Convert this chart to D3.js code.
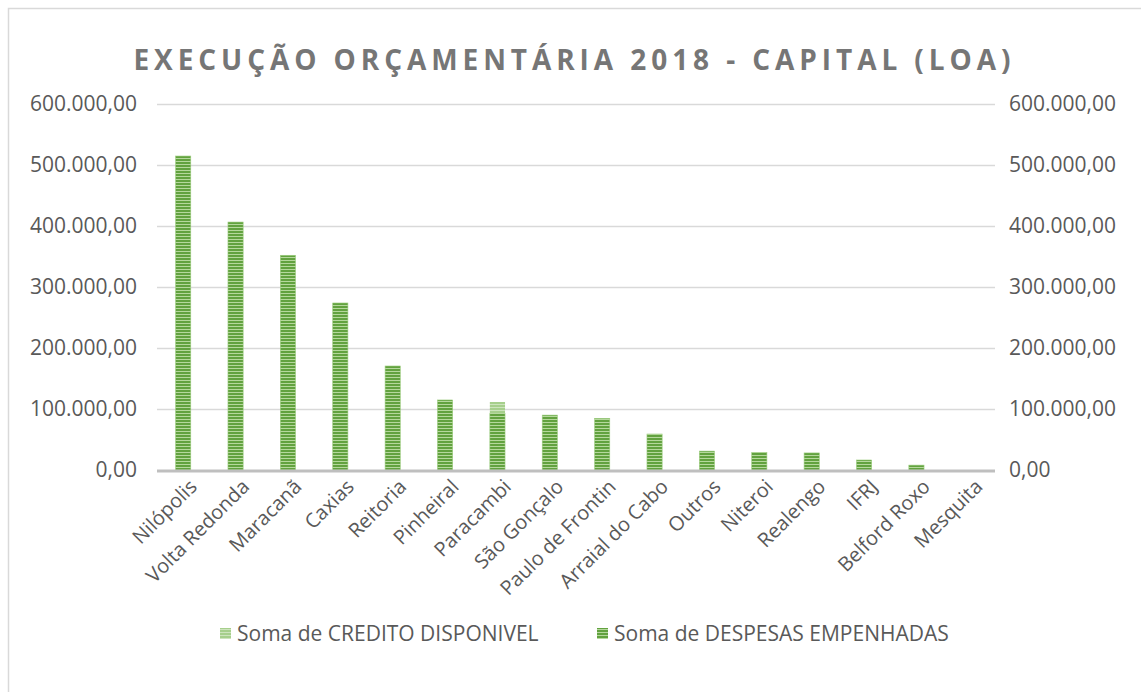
<!DOCTYPE html>
<html>
<head>
<meta charset="utf-8">
<script src="https://cdn.jsdelivr.net/npm/d3@7"></script>
<style>
  body { margin: 0; background: #fff; }
  svg text { font-family: "Open Sans", sans-serif; fill: #595959; }
</style>
</head>
<body>
<svg id="chart" width="1141" height="692"></svg>
<script>
// chart data
var categories = ["Nilópolis", "Volta Redonda", "Maracanã", "Caxias", "Reitoria", "Pinheiral", "Paracambi",
  "São Gonçalo", "Paulo de Frontin", "Arraial do Cabo", "Outros", "Niteroi", "Realengo", "IFRJ", "Belford Roxo", "Mesquita"];
var despesas = [514700, 406500, 352000, 273800, 170500, 114800, 93000, 90000, 84700, 59000, 31000, 29000, 28000, 16400, 8000, 0];
var credito = [0, 0, 0, 0, 0, 0, 18500, 0, 0, 0, 0, 0, 0, 0, 0, 0];
var yTicks = [0, 100000, 200000, 300000, 400000, 500000, 600000];
var seriesNames = ["Soma de CREDITO DISPONIVEL", "Soma de DESPESAS EMPENHADAS"];
var title = "EXECUÇÃO ORÇAMENTÁRIA 2018 - CAPITAL (LOA)";

var svg = d3.select("#chart");
var plotLeft = 157, plotRight = 995, plotTop = 104, plotBottom = 470;

// outer chart frame (cropped on the right and bottom)
svg.append("rect")
  .attr("x", 8.5).attr("y", 8.5)
  .attr("width", 1300).attr("height", 900)
  .attr("fill", "#fff").attr("stroke", "#d9d9d9").attr("stroke-width", 1.5);

// striped fills
var defs = svg.append("defs");
function stripes(id, base, light) {
  var p = defs.append("pattern").attr("id", id)
    .attr("patternUnits", "userSpaceOnUse").attr("width", 6).attr("height", 3);
  p.append("rect").attr("width", 6).attr("height", 3).attr("fill", base);
  p.append("rect").attr("y", 2).attr("width", 6).attr("height", 1).attr("fill", light);
}
stripes("patDesp", "#62a23f", "#b5d89c");
stripes("patCred", "#a6cf8c", "#cde4bd");

var x = d3.scaleBand().domain(categories).range([plotLeft, plotRight]).paddingInner(0.71).paddingOuter(0.355);
var y = d3.scaleLinear().domain([0, 600000]).range([plotBottom, plotTop]);

var fmt = function(v) {
  return d3.format(",.2f")(v).replace(/,/g, "#").replace(".", ",").replace(/#/g, ".");
};

// gridlines
svg.append("g").selectAll("line")
  .data(yTicks.slice(1))
  .enter().append("line")
  .attr("x1", plotLeft).attr("x2", plotRight)
  .attr("y1", function(d) { return Math.round(y(d)) + 0.5; })
  .attr("y2", function(d) { return Math.round(y(d)) + 0.5; })
  .attr("stroke", "#d9d9d9").attr("stroke-width", 1.5);

// left and right tick labels
svg.append("g").selectAll("text")
  .data(yTicks)
  .enter().append("text")
  .attr("x", 137).attr("y", function(d) { return y(d); })
  .attr("dy", "0.35em").attr("text-anchor", "end")
  .style("font-size", "21px")
  .text(fmt);
svg.append("g").selectAll("text")
  .data(yTicks)
  .enter().append("text")
  .attr("x", 1009).attr("y", function(d) { return y(d); })
  .attr("dy", "0.35em").attr("text-anchor", "start")
  .style("font-size", "21px")
  .text(fmt);

// bars: despesas at the bottom, credito stacked on top
var bars = svg.append("g");
bars.selectAll(".desp")
  .data(categories)
  .enter().append("rect")
  .attr("class", "desp")
  .attr("x", function(d) { return x(d); })
  .attr("width", x.bandwidth())
  .attr("y", function(d, i) { return y(despesas[i]); })
  .attr("height", function(d, i) { return y(0) - y(despesas[i]); })
  .attr("fill", "url(#patDesp)")
  .attr("stroke", "#9ccc7e").attr("stroke-width", 0.6);
bars.selectAll(".cred")
  .data(categories)
  .enter().append("rect")
  .attr("class", "cred")
  .attr("x", function(d) { return x(d); })
  .attr("width", x.bandwidth())
  .attr("y", function(d, i) { return y(despesas[i] + credito[i]); })
  .attr("height", function(d, i) { return y(despesas[i]) - y(despesas[i] + credito[i]); })
  .attr("fill", "url(#patCred)");

// baseline
svg.append("line")
  .attr("x1", plotLeft).attr("x2", plotRight)
  .attr("y1", y(0) + 1).attr("y2", y(0) + 1)
  .attr("stroke", "#bfbfbf").attr("stroke-width", 3);

// category labels rotated
svg.append("g").selectAll("text")
  .data(categories)
  .enter().append("text")
  .attr("transform", function(d) {
    return "translate(" + (x(d) + x.bandwidth() / 2 + 10) + "," + (plotBottom + 13) + ") rotate(-45)";
  })
  .attr("text-anchor", "end").attr("dy", "0.35em")
  .style("font-size", "20px")
  .text(function(d) { return d; });

// title
svg.append("text")
  .attr("x", 572).attr("y", 70)
  .attr("text-anchor", "middle")
  .attr("textLength", 877).attr("lengthAdjust", "spacing")
  .style("font-size", "28px").style("font-weight", "bold").style("fill", "#767676")
  .text(title);

// legend
var legend = svg.append("g");
var legendX = [220, 597];
var legendFill = ["url(#patCred)", "url(#patDesp)"];
seriesNames.forEach(function(name, i) {
  legend.append("rect")
    .attr("x", legendX[i]).attr("y", 628)
    .attr("width", 11).attr("height", 11)
    .attr("fill", legendFill[i]);
  legend.append("text")
    .attr("x", legendX[i] + 17).attr("y", 634)
    .attr("dy", "0.35em")
    .style("font-size", "21px")
    .text(name);
});
</script>
</body>
</html>
